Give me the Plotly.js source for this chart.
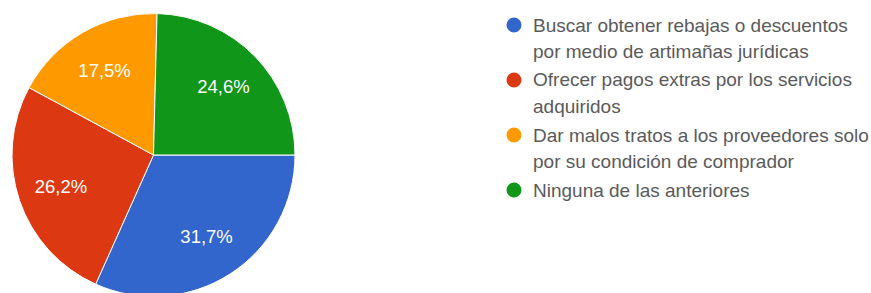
<!DOCTYPE html>
<html>
<head>
<meta charset="utf-8">
<script src="https://cdn.plot.ly/plotly-3.0.1.min.js"></script>
<style>
html,body{margin:0;padding:0;overflow:hidden;background:#fff;width:871px;height:293px;}
#chart{width:871px;height:300px;}
</style>
</head>
<body>
<div id="chart"></div>
<script>
var labels = [
  'Buscar obtener rebajas o descuentos<br>por medio de artimañas jurídicas',
  'Ofrecer pagos extras por los servicios<br>adquiridos',
  'Dar malos tratos a los proveedores solo<br>por su condición de comprador',
  'Ninguna de las anteriores'
];
var values = [31.7, 26.2, 17.5, 24.6];
var colors = ['#3366cc', '#dc3912', '#ff9900', '#109618'];

var W = 871, H = 300;
var font = 'Arial, "Liberation Sans", sans-serif';
var pieDomain = {x: [12 / W, 295 / W], y: [(H - 296.5) / H, (H - 13.5) / H]};

// visible slices
var slices = {
  type: 'pie',
  labels: labels,
  values: values,
  sort: false,
  direction: 'clockwise',
  rotation: 90,
  marker: {colors: colors, line: {color: '#ffffff', width: 1}},
  textinfo: 'none',
  hoverinfo: 'none',
  showlegend: false,
  domain: pieDomain
};

// transparent overlay ring that carries the percentage labels further out
var labelsRing = {
  type: 'pie',
  labels: labels,
  values: values,
  sort: false,
  direction: 'clockwise',
  rotation: 90,
  hole: 0.38,
  marker: {colors: colors.map(function () { return 'rgba(0,0,0,0)'; }), line: {width: 0}},
  texttemplate: '%{percent:.1%}',
  textposition: 'inside',
  insidetextorientation: 'horizontal',
  textfont: {family: font, size: 18.5, color: '#ffffff'},
  hoverinfo: 'none',
  showlegend: false,
  domain: pieDomain
};

// custom legend (circles + text lines)
var itemY = [25, 80, 135, 190];
var lineGap = 26.5;
var shapes = [], annotations = [];
labels.forEach(function (lab, i) {
  shapes.push({
    type: 'circle', xref: 'paper', yref: 'paper',
    xsizemode: 'pixel', ysizemode: 'pixel',
    xanchor: 514 / W, yanchor: 1 - itemY[i] / H,
    x0: -7.5, x1: 7.5, y0: -7.5, y1: 7.5,
    fillcolor: colors[i], line: {width: 0}
  });
  lab.split('<br>').forEach(function (ln, j) {
    annotations.push({
      xref: 'paper', yref: 'paper',
      x: 531 / W, y: 1 - (itemY[i] + j * lineGap) / H,
      xanchor: 'left', yanchor: 'middle',
      text: ln, showarrow: false,
      font: {family: font, size: 19, color: '#5a5a5a'}
    });
  });
});

var layout = {
  width: W, height: H,
  margin: {l: 0, r: 0, t: 0, b: 0},
  paper_bgcolor: '#ffffff',
  separators: ',.',
  showlegend: false,
  shapes: shapes,
  annotations: annotations
};

Plotly.newPlot('chart', [slices, labelsRing], layout, {displayModeBar: false, staticPlot: true});
</script>
</body>
</html>
